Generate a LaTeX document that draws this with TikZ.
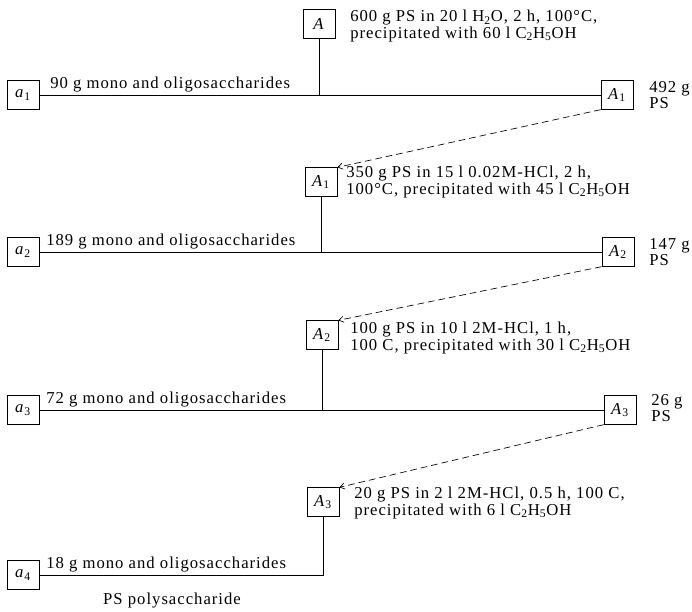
\documentclass[tikz,border=0pt]{standalone}
\usepackage{fontspec}
\setmainfont{Liberation Serif}[LetterSpace=6]
\usetikzlibrary{arrows.meta}
\begin{document}
\begin{tikzpicture}[x=0.75pt,y=-0.75pt,
  font=\fontsize{12.5pt}{12.5pt}\selectfont,
  lbox/.style={draw,line width=0.5pt,minimum width=24pt,minimum height=21.5pt,inner sep=0pt},
  conn/.style={line width=0.6pt},
  back/.style={line width=0.5pt,dash pattern=on 5pt off 3pt,-{Straight Barb[length=3.5pt,width=4.5pt]}},
  txt/.style={align=left,inner sep=0pt,anchor=west},
  mono/.style={inner sep=0pt,anchor=base west}]
\useasboundingbox (0,0) rectangle (692,611);
% upper boxes
\node[lbox] (A)  at (319,24)  {\textit{A}};
\node[lbox] (A1) at (321,182) {\textit{A}\textsubscript{1}};
\node[lbox] (A2) at (322,335) {\textit{A}\textsubscript{2}};
\node[lbox] (A3) at (323,502) {\textit{A}\textsubscript{3}};
% left boxes
\node[lbox] (a1) at (23,95)  {\textit{a}\textsubscript{1}};
\node[lbox] (a2) at (23,252) {\textit{a}\textsubscript{2}};
\node[lbox] (a3) at (23,410) {\textit{a}\textsubscript{3}};
\node[lbox] (a4) at (23,575) {\textit{a}\textsubscript{4}};
% right boxes
\node[lbox] (R1) at (617,95)  {\textit{A}\textsubscript{1}};
\node[lbox] (R2) at (618,252) {\textit{A}\textsubscript{2}};
\node[lbox] (R3) at (620,410) {\textit{A}\textsubscript{3}};
% texts
\node[txt] (tA) at (350,26) {600 g PS in 20 l H\textsubscript{2}O, 2 h, 100°C,\\precipitated with 60 l C\textsubscript{2}H\textsubscript{5}OH};
\node[txt] (t1) at (346,182) {350 g PS in 15 l 0.02M-HCl, 2 h,\\100°C, precipitated with 45 l C\textsubscript{2}H\textsubscript{5}OH};
\node[txt] (t2) at (350,338) {100 g PS in 10 l 2M-HCl, 1 h,\\100 C, precipitated with 30 l C\textsubscript{2}H\textsubscript{5}OH};
\node[txt] (t3) at (354,503) {20 g PS in 2 l 2M-HCl, 0.5 h, 100 C,\\precipitated with 6 l C\textsubscript{2}H\textsubscript{5}OH};
\node[txt] (r1t) at (649,95)  {492 g\\PS};
\node[txt] (r2t) at (649,252) {147 g\\PS};
\node[txt] (r3t) at (651,408) {26 g\\PS};
\node[mono] (m1) at (50,88)  {90 g mono and oligosaccharides};
\node[mono] (m2) at (46,245) {189 g mono and oligosaccharides};
\node[mono] (m3) at (46,403) {72 g mono and oligosaccharides};
\node[mono] (m4) at (46,568) {18 g mono and oligosaccharides};
\node (leg) at (172,601) {PS polysaccharide};
% connectors
\draw[conn] (a1) -- (R1);
\draw[conn] (a2) -- (R2);
\draw[conn] (a3) -- (R3);
\draw[conn] (A)  -- (A |- a1);
\draw[conn] (A1) -- (A1 |- a2);
\draw[conn] (A2) -- (A2 |- a3);
\draw[conn] (A3) |- (a4);
\draw[back] (R1.south west) -- (A1.north east);
\draw[back] (R2.south west) -- (A2.north east);
\draw[back] (R3.south west) -- (A3.north east);
\end{tikzpicture}
\end{document}
